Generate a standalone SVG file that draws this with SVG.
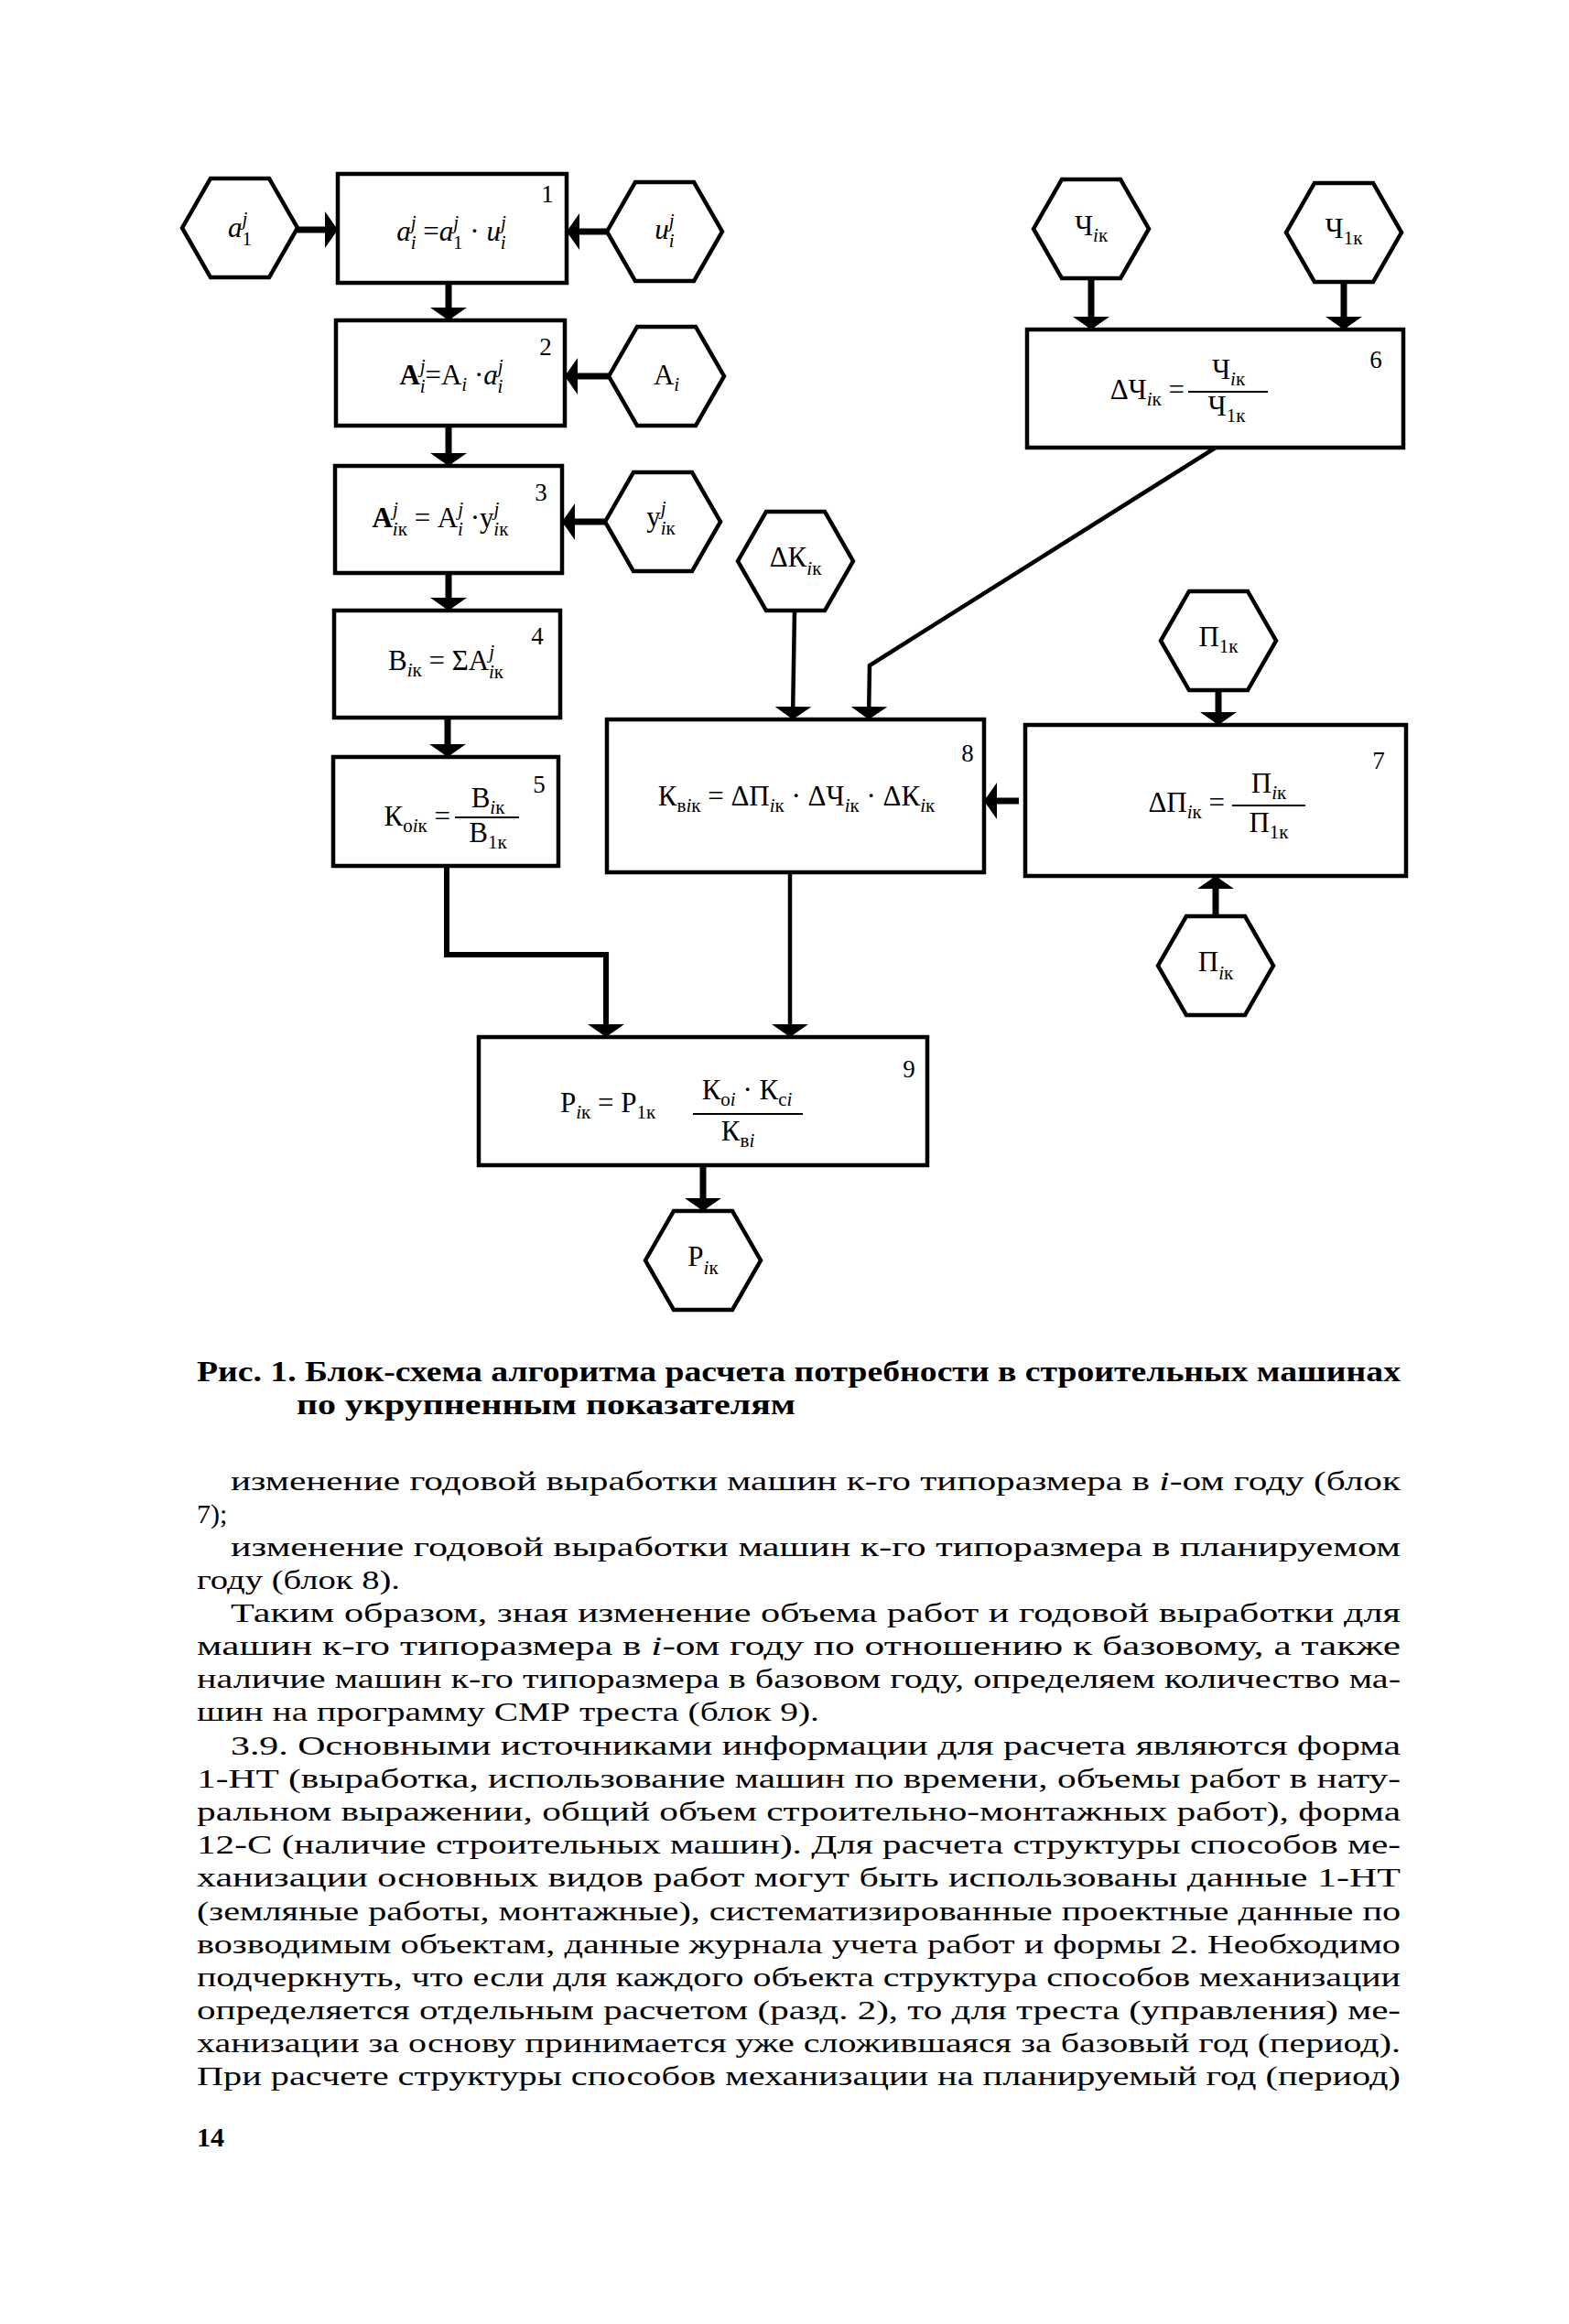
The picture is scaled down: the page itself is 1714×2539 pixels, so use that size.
<svg xmlns="http://www.w3.org/2000/svg" width="1714" height="2539" viewBox="0 0 1714 2539">
<style>
.bg{fill:#fff}
.box{fill:none;stroke:#000;stroke-width:4.5}
.hex{fill:#fff;stroke:#000;stroke-width:4.5;stroke-linejoin:miter}
.w{fill:none;stroke:#000;stroke-width:7}
.t{fill:none;stroke:#000;stroke-width:4.5}
.f{font-family:"Liberation Serif",serif;font-size:31px;fill:#000}
.s{font-size:21px}
.it{font-style:italic}
.b{font-weight:bold}
.num{font-family:"Liberation Serif",serif;font-size:27px;fill:#000}
.cap{font-family:"Liberation Serif",serif;font-size:31px;font-weight:bold;fill:#000}
.body{font-family:"Liberation Serif",serif;font-size:30px;fill:#000}
.fl{stroke:#000;stroke-width:2}
</style>
<defs>
<marker id="ah" viewBox="0 0 14 40" refX="14" refY="20" markerWidth="14" markerHeight="40" markerUnits="userSpaceOnUse" orient="auto">
<path d="M0,0 L14,20 L0,40 Z" fill="#000"/>
</marker>
</defs>
<rect class="bg" x="0" y="0" width="1714" height="2539"/>

<g id="connectors">
<line class="w" x1="325" y1="251" x2="369" y2="251" marker-end="url(#ah)"/>
<line class="w" x1="663" y1="253" x2="619" y2="253" marker-end="url(#ah)"/>
<line class="w" x1="665" y1="411" x2="617" y2="411" marker-end="url(#ah)"/>
<line class="w" x1="661" y1="570" x2="614" y2="570" marker-end="url(#ah)"/>
<line class="w" x1="490" y1="309" x2="490" y2="350" marker-end="url(#ah)"/>
<line class="w" x1="490" y1="465" x2="490" y2="509" marker-end="url(#ah)"/>
<line class="w" x1="490" y1="626" x2="490" y2="667" marker-end="url(#ah)"/>
<line class="w" x1="489" y1="784" x2="489" y2="827" marker-end="url(#ah)"/>
<line class="w" x1="1192" y1="304" x2="1192" y2="360" marker-end="url(#ah)"/>
<line class="w" x1="1468" y1="308" x2="1468" y2="360" marker-end="url(#ah)"/>
<line class="t" x1="868" y1="667" x2="866" y2="786" marker-end="url(#ah)"/>
<polyline class="t" points="1328,489 950,727 949,786" marker-end="url(#ah)"/>
<line class="w" x1="1331" y1="754" x2="1331" y2="792" marker-end="url(#ah)"/>
<line class="w" x1="1328" y1="1001" x2="1328" y2="957" marker-end="url(#ah)"/>
<line class="w" x1="1113" y1="875" x2="1075" y2="875" marker-end="url(#ah)"/>
<polyline class="w" style="stroke-width:6" points="488,946 488,1043 662,1043 662,1133" marker-end="url(#ah)"/>
<line class="t" x1="863" y1="953" x2="863" y2="1133" marker-end="url(#ah)"/>
<line class="w" x1="768" y1="1273" x2="768" y2="1323" marker-end="url(#ah)"/>
</g>

<g id="hex-a1">
<polygon class="hex" points="199,249 230,195 294,195 325,249 294,303 230,303"/>
<text class="f" x="262" y="259" text-anchor="middle"><tspan class="it">a</tspan><tspan class="s it" dy="-13">j</tspan><tspan class="s" dx="-6" dy="22">1</tspan></text>
</g>
<g id="hex-u">
<polygon class="hex" points="663,253 694,199 758,199 789,253 758,307 694,307"/>
<text class="f" x="726" y="261" text-anchor="middle"><tspan class="it">u</tspan><tspan class="s it" dy="-13">j</tspan><tspan class="s it" dx="-6" dy="22">i</tspan></text>
</g>
<g id="hex-A">
<polygon class="hex" points="665,411 696,357 760,357 791,411 760,465 696,465"/>
<text class="f" x="728" y="420" text-anchor="middle">A<tspan class="s it" dy="7">i</tspan></text>
</g>
<g id="hex-y">
<polygon class="hex" points="661,570 692,516 756,516 787,570 756,624 692,624"/>
<text class="f" x="722" y="575" text-anchor="middle">у<tspan class="s it" dy="-13">j</tspan><tspan class="s" dx="-6" dy="22"><tspan class="it">i</tspan>к</tspan></text>
</g>
<g id="hex-Chik">
<polygon class="hex" points="1129,250 1160,196 1224,196 1255,250 1224,304 1160,304"/>
<text class="f" x="1192" y="257" text-anchor="middle">Ч<tspan class="s" dy="7"><tspan class="it">i</tspan>к</tspan></text>
</g>
<g id="hex-Ch1k">
<polygon class="hex" points="1405,254 1436,200 1500,200 1531,254 1500,308 1436,308"/>
<text class="f" x="1468" y="260" text-anchor="middle">Ч<tspan class="s" dy="7">1к</tspan></text>
</g>
<g id="hex-dK">
<polygon class="hex" points="806,613 837,559 901,559 932,613 901,667 837,667"/>
<text class="f" x="869" y="619" text-anchor="middle">ΔК<tspan class="s" dy="9"><tspan class="it">i</tspan>к</tspan></text>
</g>
<g id="hex-P1k">
<polygon class="hex" points="1268,700 1299,646 1363,646 1394,700 1363,754 1299,754"/>
<text class="f" x="1331" y="706" text-anchor="middle">П<tspan class="s" dy="7">1к</tspan></text>
</g>
<g id="hex-Pik">
<polygon class="hex" points="1265,1055 1296,1001 1360,1001 1391,1055 1360,1109 1296,1109"/>
<text class="f" x="1328" y="1061" text-anchor="middle">П<tspan class="s" dy="9"><tspan class="it">i</tspan>к</tspan></text>
</g>
<g id="hex-Rik">
<polygon class="hex" points="705,1377 736,1323 800,1323 831,1377 800,1431 736,1431"/>
<text class="f" x="768" y="1383" text-anchor="middle">Р<tspan class="s" dy="9"><tspan class="it">i</tspan>к</tspan></text>
</g>

<g id="block1">
<rect class="box" x="369" y="190" width="250" height="119"/>
<text class="num" x="598" y="221" text-anchor="middle">1</text>
<text class="f" x="493" y="263" text-anchor="middle"><tspan class="it">a</tspan><tspan class="s it" dy="-13">j</tspan><tspan class="s it" dx="-6" dy="22">i</tspan><tspan dy="-9"> =</tspan><tspan class="it">a</tspan><tspan class="s it" dy="-13">j</tspan><tspan class="s" dx="-6" dy="22">1</tspan><tspan dy="-9"> · </tspan><tspan class="it">u</tspan><tspan class="s it" dy="-13">j</tspan><tspan class="s it" dx="-6" dy="22">i</tspan></text>
</g>
<g id="block2">
<rect class="box" x="367" y="350" width="250" height="115"/>
<text class="num" x="596" y="388" text-anchor="middle">2</text>
<text class="f" x="493" y="420" text-anchor="middle"><tspan class="b">A</tspan><tspan class="s it" dy="-13">j</tspan><tspan class="s it" dx="-6" dy="22">i</tspan><tspan dy="-9">=A</tspan><tspan class="s it" dy="7">i</tspan><tspan dy="-7"> ·</tspan><tspan class="it">a</tspan><tspan class="s it" dy="-13">j</tspan><tspan class="s it" dx="-6" dy="22">i</tspan></text>
</g>
<g id="block3">
<rect class="box" x="366" y="509" width="248" height="117"/>
<text class="num" x="591" y="547" text-anchor="middle">3</text>
<text class="f" x="481" y="576" text-anchor="middle"><tspan class="b">A</tspan><tspan class="s it" dy="-13">j</tspan><tspan class="s" dx="-6" dy="22"><tspan class="it">i</tspan>к</tspan><tspan dy="-9"> = A</tspan><tspan class="s it" dy="-13">j</tspan><tspan class="s it" dx="-6" dy="22">i</tspan><tspan dy="-9"> ·у</tspan><tspan class="s it" dy="-13">j</tspan><tspan class="s" dx="-6" dy="22"><tspan class="it">i</tspan>к</tspan></text>
</g>
<g id="block4">
<rect class="box" x="365" y="667" width="247" height="117"/>
<text class="num" x="587" y="704" text-anchor="middle">4</text>
<text class="f" x="487" y="732" text-anchor="middle">В<tspan class="s" dy="7"><tspan class="it">i</tspan>к</tspan><tspan dy="-7"> = ΣA</tspan><tspan class="s it" dy="-13">j</tspan><tspan class="s" dx="-6" dy="22"><tspan class="it">i</tspan>к</tspan></text>
</g>
<g id="block5">
<rect class="box" x="364" y="827" width="246" height="119"/>
<text class="num" x="589" y="866" text-anchor="middle">5</text>
<text class="f" x="492" y="902" text-anchor="end">К<tspan class="s" dy="7">о<tspan class="it">i</tspan>к</tspan><tspan dy="-7"> =</tspan></text>
<line class="fl" x1="497" y1="893" x2="567" y2="893"/>
<text class="f" x="533" y="882" text-anchor="middle">В<tspan class="s" dy="7"><tspan class="it">i</tspan>к</tspan></text>
<text class="f" x="533" y="920" text-anchor="middle">В<tspan class="s" dy="7">1к</tspan></text>
</g>
<g id="block6">
<rect class="box" x="1122" y="360" width="411" height="129"/>
<text class="num" x="1503" y="402" text-anchor="middle">6</text>
<text class="f" x="1294" y="436" text-anchor="end">ΔЧ<tspan class="s" dy="7"><tspan class="it">i</tspan>к</tspan><tspan dy="-7"> =</tspan></text>
<line class="fl" x1="1298" y1="428" x2="1385" y2="428"/>
<text class="f" x="1342" y="414" text-anchor="middle">Ч<tspan class="s" dy="7"><tspan class="it">i</tspan>к</tspan></text>
<text class="f" x="1340" y="454" text-anchor="middle">Ч<tspan class="s" dy="7">1к</tspan></text>
</g>
<g id="block7">
<rect class="box" x="1120" y="792" width="416" height="165"/>
<text class="num" x="1506" y="840" text-anchor="middle">7</text>
<text class="f" x="1338" y="887" text-anchor="end">ΔП<tspan class="s" dy="7"><tspan class="it">i</tspan>к</tspan><tspan dy="-7"> =</tspan></text>
<line class="fl" x1="1346" y1="880" x2="1426" y2="880"/>
<text class="f" x="1386" y="866" text-anchor="middle">П<tspan class="s" dy="7"><tspan class="it">i</tspan>к</tspan></text>
<text class="f" x="1386" y="909" text-anchor="middle">П<tspan class="s" dy="7">1к</tspan></text>
</g>
<g id="block8">
<rect class="box" x="663" y="786" width="412" height="167"/>
<text class="num" x="1057" y="832" text-anchor="middle">8</text>
<text class="f" x="870" y="880" text-anchor="middle">К<tspan class="s" dy="7">в<tspan class="it">i</tspan>к</tspan><tspan dy="-7"> = ΔП</tspan><tspan class="s" dy="7"><tspan class="it">i</tspan>к</tspan><tspan dy="-7"> · ΔЧ</tspan><tspan class="s" dy="7"><tspan class="it">i</tspan>к</tspan><tspan dy="-7"> · ΔК</tspan><tspan class="s" dy="7"><tspan class="it">i</tspan>к</tspan></text>
</g>
<g id="block9">
<rect class="box" x="523" y="1133" width="490" height="140"/>
<text class="num" x="993" y="1177" text-anchor="middle">9</text>
<text class="f" x="612" y="1215">Р<tspan class="s" dy="7"><tspan class="it">i</tspan>к</tspan><tspan dy="-7"> = Р</tspan><tspan class="s" dy="7">1к</tspan></text>
<line class="fl" x1="757" y1="1217" x2="877" y2="1217"/>
<text class="f" x="816" y="1201" text-anchor="middle">К<tspan class="s" dy="7">о<tspan class="it">i</tspan></tspan><tspan dy="-7"> · К</tspan><tspan class="s" dy="7">с<tspan class="it">i</tspan></tspan></text>
<text class="f" x="806" y="1246" text-anchor="middle">К<tspan class="s" dy="7">в<tspan class="it">i</tspan></tspan></text>
</g>

<g id="caption">
<text class="cap" x="215" y="1509" textLength="1315" lengthAdjust="spacingAndGlyphs">Рис. 1. Блок-схема алгоритма расчета потребности в строительных машинах</text>
<text class="cap" x="324" y="1545" textLength="545" lengthAdjust="spacingAndGlyphs">по   укрупненным   показателям</text>
</g>

<g id="body">
<text class="body" x="252" y="1628" textLength="1278" lengthAdjust="spacingAndGlyphs">изменение годовой выработки машин к-го типоразмера в <tspan class="it">i</tspan>-ом году (блок</text>
<text class="body" x="215" y="1664">7);</text>
<text class="body" x="252" y="1700" textLength="1278" lengthAdjust="spacingAndGlyphs">изменение годовой выработки машин к-го типоразмера в планируемом</text>
<text class="body" x="215" y="1736" textLength="222" lengthAdjust="spacingAndGlyphs">году   (блок   8).</text>
<text class="body" x="252" y="1772" textLength="1278" lengthAdjust="spacingAndGlyphs">Таким образом, зная изменение объема работ и годовой выработки для</text>
<text class="body" x="215" y="1808" textLength="1315" lengthAdjust="spacingAndGlyphs">машин к-го типоразмера в <tspan class="it">i</tspan>-ом году  по  отношению к базовому, а также</text>
<text class="body" x="215" y="1844" textLength="1315" lengthAdjust="spacingAndGlyphs">наличие машин к-го типоразмера в базовом году, определяем количество ма-</text>
<text class="body" x="215" y="1880" textLength="680" lengthAdjust="spacingAndGlyphs">шин на программу СМР треста (блок 9).</text>
<text class="body" x="252" y="1917" textLength="1278" lengthAdjust="spacingAndGlyphs">3.9. Основными источниками информации для расчета являются форма</text>
<text class="body" x="215" y="1953" textLength="1315" lengthAdjust="spacingAndGlyphs">1-НТ (выработка, использование машин по времени, объемы работ в нату-</text>
<text class="body" x="215" y="1989" textLength="1315" lengthAdjust="spacingAndGlyphs">ральном выражении, общий объем строительно-монтажных работ), форма</text>
<text class="body" x="215" y="2025" textLength="1315" lengthAdjust="spacingAndGlyphs">12-С (наличие строительных машин). Для расчета структуры способов ме-</text>
<text class="body" x="215" y="2061" textLength="1315" lengthAdjust="spacingAndGlyphs">ханизации основных видов работ могут быть использованы данные 1-НТ</text>
<text class="body" x="215" y="2098" textLength="1315" lengthAdjust="spacingAndGlyphs">(земляные работы, монтажные), систематизированные проектные данные по</text>
<text class="body" x="215" y="2134" textLength="1315" lengthAdjust="spacingAndGlyphs">возводимым объектам, данные журнала учета работ и формы 2. Необходимо</text>
<text class="body" x="215" y="2170" textLength="1315" lengthAdjust="spacingAndGlyphs">подчеркнуть, что если для каждого объекта структура способов механизации</text>
<text class="body" x="215" y="2206" textLength="1315" lengthAdjust="spacingAndGlyphs">определяется отдельным расчетом (разд. 2), то для треста (управления) ме-</text>
<text class="body" x="215" y="2242" textLength="1315" lengthAdjust="spacingAndGlyphs">ханизации за основу принимается уже сложившаяся за базовый год (период).</text>
<text class="body" x="215" y="2278" textLength="1315" lengthAdjust="spacingAndGlyphs">При расчете структуры способов механизации на планируемый год (период)</text>
<text class="body b" x="215" y="2345">14</text>
</g>
</svg>
